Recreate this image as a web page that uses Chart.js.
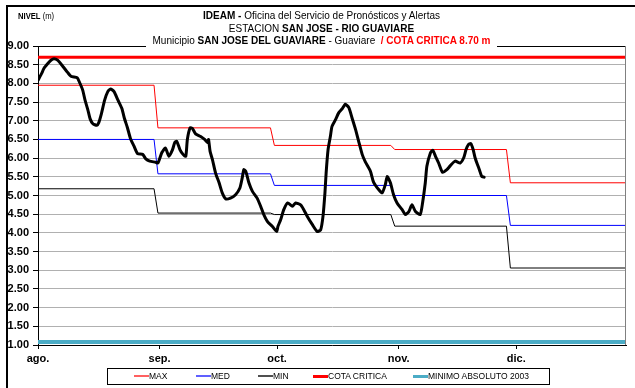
<!DOCTYPE html>
<html>
<head>
<meta charset="utf-8">
<script src="https://cdn.jsdelivr.net/npm/chart.js@4"></script>
<style>
  body { margin: 0; background: #fff; }
  #marco { position: absolute; left: 0; top: 0; width: 635px; height: 388px; overflow: hidden; }
  #borde { position: absolute; left: 6px; top: 5px; width: 700px; height: 500px; border-left: 2px solid #000; border-top: 2px solid #000; }
  #grafica { position: absolute; left: 0; top: 0; }
  #titulo { position: absolute; left: 146px; width: 351px; top: 9px; height: 41px; background: #fff; }
  #titulo .lineas { width: 451px; margin-left: -50px; transform: scaleX(0.91); transform-origin: 225.5px 0; white-space: nowrap;
            font-family: "Liberation Sans", Arial, sans-serif;
            font-size: 11px; line-height: 12.5px; text-align: center; color: #000; }
  #titulo b { font-weight: bold; }
  #titulo .rojo { color: #ff0000; font-weight: bold; }
  #unidad { position: absolute; left: 18px; top: 11px; font-family: "Liberation Sans", Arial, sans-serif; font-size: 9px;
            transform: scaleX(0.85); transform-origin: 0 0; }
  #leyenda { position: absolute; left: 107px; top: 368px; width: 441px; height: 15px; border: 1px solid #000;
             font-family: "Liberation Sans", Arial, sans-serif; font-size: 8.5px; }
  .item { position: absolute; top: 0; height: 15px; line-height: 15px; white-space: nowrap; }
  .muestra { position: absolute; top: 7px; width: 15px; }
  .item span.txt { position: absolute; left: 15px; top: 0; }
</style>
</head>
<body>
<div id="marco">
  <div id="borde"></div>
  <canvas id="grafica" width="635" height="388"></canvas>
  <div id="unidad"><b>NIVEL</b> (m)</div>
  <div id="titulo"><div class="lineas">
    <b>IDEAM -</b> Oficina del Servicio de Pronósticos y Alertas<br>
    ESTACION <b>SAN JOSE - RIO GUAVIARE</b><br>
    Municipio <b>SAN JOSE DEL GUAVIARE</b> - Guaviare <span class="rojo">&nbsp;/ COTA CRITICA 8.70 m</span>
  </div></div>
  <div id="leyenda"></div>
</div>
<script>
// meses del eje x (dia contado desde el 1 de agosto)
const meses = ['ago.', 'sep.', 'oct.', 'nov.', 'dic.'];
const diaInicioMes = [0, 31, 61, 92, 122];
const diaFinal = 150;
// dia en que empieza cada valor mensual de las curvas MAX, MED y MIN
const cambioSerie = [0, 30.6, 60.3, 91, 120.5];

const nivelMax = [7.95, 6.81, 6.34, 6.23, 5.34];
const nivelMed = [6.50, 5.58, 5.27, 5.00, 4.20];
const nivelMin = [5.18, 4.53, 4.49, 4.18, 3.06];
const cotaCritica = 8.70;
const minimoAbsoluto = 1.08;

// nivel observado
const diasNivel = [0, 1, 1.5, 2.5, 3.3, 4.1, 5, 6.3, 7.5, 8.4, 10, 10.5, 11.4, 12, 12.7, 13.3, 14, 15, 15.5, 16.2,
  17, 17.8, 18.5, 19.4, 20.4, 21.4, 22, 22.8, 23.6, 24.5, 25.4, 26.7, 27.5, 28.5, 30, 30.6, 31.6, 32.5, 33.4, 34.3,
  34.9, 35.4, 36.2, 37, 37.7, 38.1, 38.8, 39.4, 40.2, 41.5, 42.5, 43.2, 43.5, 43.9, 44.5, 45.3, 46.2, 47, 47.9, 49.1,
  50.4, 51.5, 52.1, 52.5, 53, 53.8, 54.7, 55.9, 56.8, 57.6, 58.5, 59.8, 60.9, 61.2, 61.9, 62.7, 63.7, 64.9, 65.7, 67,
  67.8, 68.7, 70, 71.2, 72.1, 72.7, 73.2, 73.5, 74, 74.6, 75, 75.9, 76.7, 77.6, 78.4, 79.3, 80.1, 81, 81.8, 82.7,
  83.5, 84.8, 85.6, 86.9, 87.8, 88.6, 89.1, 89.9, 90.7, 91.6, 92.9, 93.7, 94.6, 95.4, 96.3, 97.5, 98.1, 98.8, 99.2, 100.1,
  100.7, 101.4, 102.2, 103.2, 104.3, 105.2, 106.4, 107.7, 108.6, 109.2, 109.8, 110.4, 111, 111.5, 112.1, 112.6, 113.2, 113.8];
const nivelObservado = [8.08, 8.28, 8.40, 8.53, 8.62, 8.66, 8.62, 8.46, 8.30, 8.19, 8.15, 8.05, 7.82, 7.55, 7.30, 7.05, 6.92, 6.88, 6.95, 7.20,
  7.55, 7.78, 7.85, 7.78, 7.55, 7.33, 7.08, 6.82, 6.52, 6.32, 6.12, 6.10, 5.98, 5.92, 5.89, 5.87, 6.15, 6.27, 6.05, 6.22,
  6.42, 6.45, 6.23, 6.10, 6.05, 6.50, 6.81, 6.79, 6.65, 6.58, 6.50, 6.42, 6.50, 6.18, 5.96, 5.60, 5.34, 5.07, 4.91, 4.93,
  5.02, 5.20, 5.47, 5.69, 5.65, 5.34, 5.11, 4.93, 4.71, 4.49, 4.31, 4.17, 4.04, 4.17, 4.35, 4.62, 4.80, 4.71, 4.80, 4.75,
  4.62, 4.44, 4.22, 4.04, 4.08, 4.44, 5.07, 5.60, 6.23, 6.59, 6.85, 7.03, 7.21, 7.32, 7.44, 7.35, 7.08, 6.77, 6.45, 6.10,
  5.90, 5.65, 5.36, 5.16, 5.07, 5.29, 5.51, 5.34, 5.02, 4.80, 4.62, 4.49, 4.57, 4.75, 4.57, 4.49, 4.80, 5.34, 5.78, 6.14,
  6.21, 6.05, 5.87, 5.62, 5.69, 5.80, 5.92, 5.87, 6.01, 6.23, 6.36, 6.39, 6.23, 6.01, 5.83, 5.69, 5.51, 5.49];

// curva escalonada: un valor por mes, cambia en un dia
function escalon(valores) {
  let puntos = [];
  for (let i = 0; i < valores.length; i++) {
    let fin = i < valores.length - 1 ? cambioSerie[i + 1] - 1 : diaFinal;
    puntos.push({x: cambioSerie[i], y: valores[i]});
    puntos.push({x: fin, y: valores[i]});
  }
  return puntos;
}

function constante(valor) {
  return [{x: 0, y: valor}, {x: diaFinal, y: valor}];
}

var puntosNivel = [];
for (let i = 0; i < diasNivel.length; i++) {
  puntosNivel.push({x: diasNivel[i], y: nivelObservado[i]});
}

// borde del area de trazado
const bordeArea = {
  id: 'bordeArea',
  afterDraw(chart) {
    const a = chart.chartArea, ctx = chart.ctx;
    ctx.save();
    ctx.lineWidth = 1;
    ctx.strokeStyle = '#000';
    ctx.beginPath();
    ctx.moveTo(a.left, a.top + 0.5);
    ctx.lineTo(a.right, a.top + 0.5);
    ctx.stroke();
    ctx.strokeStyle = '#808080';
    ctx.beginPath();
    ctx.moveTo(a.right - 0.5, a.top);
    ctx.lineTo(a.right - 0.5, a.bottom);
    ctx.stroke();
    ctx.restore();
  }
};

var lineaBase = {pointRadius: 0, tension: 0.2, fill: false};

var ctx = document.getElementById('grafica').getContext('2d');
var grafica = new Chart(ctx, {
  type: 'line',
  data: {
    datasets: [
      Object.assign({label: 'NIVEL', data: puntosNivel, borderColor: '#000', borderWidth: 3,
        borderJoinStyle: 'round', borderCapStyle: 'round'}, lineaBase),
      Object.assign({label: 'MAX', data: escalon(nivelMax), borderColor: '#ff0000', borderWidth: 1}, lineaBase, {tension: 0}),
      Object.assign({label: 'MED', data: escalon(nivelMed), borderColor: '#0000ff', borderWidth: 1}, lineaBase, {tension: 0}),
      Object.assign({label: 'MIN', data: escalon(nivelMin), borderColor: '#000', borderWidth: 1}, lineaBase, {tension: 0}),
      Object.assign({label: 'COTA CRITICA', data: constante(cotaCritica), borderColor: '#ff0000', borderWidth: 3}, lineaBase),
      Object.assign({label: 'MINIMO ABSOLUTO 2003', data: constante(minimoAbsoluto), borderColor: '#4bacc6', borderWidth: 4}, lineaBase)
    ]
  },
  options: {
    responsive: false,
    animation: false,
    layout: {padding: {left: 6, top: 46, right: 9, bottom: 21}},
    plugins: {legend: {display: false}, tooltip: {enabled: false}},
    scales: {
      x: {
        type: 'linear', min: 0, max: diaFinal,
        afterBuildTicks: s => { s.ticks = diaInicioMes.map(d => ({value: d})); },
        afterFit: s => { s.height = 22; },
        ticks: {
          callback: (v) => meses[diaInicioMes.indexOf(v)],
          color: '#000', font: {family: 'Liberation Sans', size: 11, weight: 'bold'}, padding: 3,
          maxRotation: 0, autoSkip: false
        },
        grid: {drawOnChartArea: false, tickLength: 4, tickColor: '#000'},
        border: {color: '#000', width: 1}
      },
      y: {
        min: 1, max: 9,
        afterFit: s => { s.width = 32; },
        ticks: {
          stepSize: 0.5, callback: v => v.toFixed(2),
          color: '#000', font: {family: 'Liberation Sans', size: 11, weight: 'bold'}, padding: 4
        },
        grid: {color: '#b0b0b0', borderDash: [1, 2], tickLength: 5, tickColor: '#000', tickBorderDash: []},
        border: {color: '#000', width: 1}
      }
    }
  },
  plugins: [bordeArea]
});

// leyenda
const leyendaItems = [
  {texto: 'MAX', color: '#ff6060', alto: 2, x: 26},
  {texto: 'MED', color: '#6060ff', alto: 2, x: 88},
  {texto: 'MIN', color: '#505050', alto: 2, x: 150},
  {texto: 'COTA CRITICA', color: '#ff0000', alto: 3, x: 205},
  {texto: 'MINIMO ABSOLUTO 2003', color: '#4bacc6', alto: 3, x: 305}
];
var leyenda = document.getElementById('leyenda');
for (let it of leyendaItems) {
  let d = document.createElement('div');
  d.className = 'item';
  d.style.left = it.x + 'px';
  d.innerHTML = '<div class="muestra" style="background:' + it.color + ';height:' + it.alto + 'px;top:' +
    (7 - Math.floor(it.alto / 2)) + 'px"></div><span class="txt">' + it.texto + '</span>';
  leyenda.appendChild(d);
}
</script>
</body>
</html>
